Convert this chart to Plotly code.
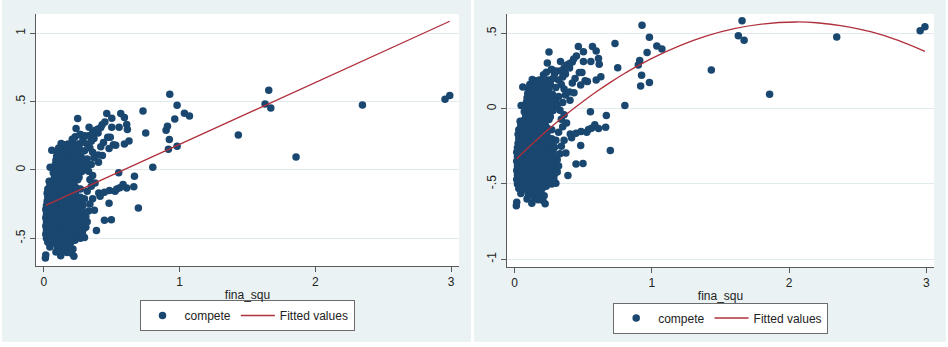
import plotly.graph_objects as go

# ---------------- data ----------------
fina_squ = [
    # bottom of dense cluster
    0.012, 0.015, 0.125, 0.205, 0.222,
    0.09, 0.14, 0.17, 0.215, 0.19,
    0.045, 0.10, 0.125, 0.16, 0.19,
    0.03, 0.07, 0.11, 0.14, 0.17, 0.20, 0.23,
    0.02, 0.05, 0.08, 0.11, 0.14, 0.17, 0.20, 0.235, 0.27, 0.30,
    0.015, 0.045, 0.075, 0.105, 0.135, 0.165, 0.195, 0.225, 0.255, 0.285,
    0.02, 0.05, 0.08, 0.11, 0.14, 0.17, 0.20, 0.23, 0.26, 0.29, 0.388,
    0.015, 0.045, 0.075, 0.105, 0.135, 0.165, 0.195, 0.225, 0.255, 0.28, 0.305,
    0.02, 0.05, 0.08, 0.11, 0.14, 0.17, 0.20, 0.23, 0.26, 0.29,
    0.015, 0.045, 0.075, 0.105, 0.135, 0.165, 0.195, 0.225, 0.255, 0.285, 0.31,
    0.02, 0.05, 0.08, 0.11, 0.14, 0.17, 0.20, 0.23, 0.26, 0.29,
    0.015, 0.045, 0.075, 0.105, 0.135, 0.165, 0.195, 0.225, 0.255, 0.28,
    0.02, 0.05, 0.08, 0.11, 0.14, 0.17, 0.20, 0.23, 0.26, 0.29,
    0.025, 0.055, 0.085, 0.115, 0.145, 0.175, 0.205, 0.235, 0.265,
    0.03, 0.06, 0.09, 0.12, 0.15, 0.18, 0.21, 0.24, 0.27, 0.30,
    0.025, 0.055, 0.085, 0.115, 0.145, 0.175, 0.205, 0.235,
    0.03, 0.06, 0.09, 0.12, 0.15, 0.18, 0.21, 0.24, 0.27,
    0.045, 0.075, 0.105, 0.135, 0.165, 0.195, 0.225,
    0.04, 0.07, 0.10, 0.13, 0.16, 0.19, 0.22, 0.25,
    # upper part of dense cluster
    0.08, 0.11, 0.14, 0.17, 0.20, 0.23, 0.26,
    0.07, 0.10, 0.13, 0.16, 0.19, 0.22, 0.25, 0.28,
    0.047, 0.09, 0.12, 0.15, 0.18, 0.21, 0.24, 0.27,
    0.085, 0.115, 0.145, 0.175, 0.205, 0.235, 0.265, 0.30,
    0.09, 0.12, 0.15, 0.18, 0.21, 0.24, 0.28,
    0.095, 0.125, 0.155, 0.185, 0.215, 0.245, 0.275,
    0.10, 0.13, 0.16, 0.19, 0.22, 0.25, 0.059,
    0.11, 0.14, 0.17, 0.20, 0.23, 0.26,
    0.128, 0.155, 0.18, 0.205, 0.245,
    0.231, 0.268, 0.21, 0.29,
    # upper streak
    0.25, 0.238, 0.334, 0.27, 0.30, 0.33, 0.36, 0.38, 0.40, 0.42, 0.43, 0.45,
    0.40, 0.37, 0.35, 0.32, 0.28, 0.34, 0.30, 0.36, 0.40, 0.432, 0.403, 0.37,
    0.32, 0.35, 0.31, 0.33, 0.36, 0.34, 0.378, 0.471, 0.49, 0.481, 0.513, 0.53,
    0.594, 0.628, 0.464, 0.567, 0.594, 0.501, 0.611, 0.555, 0.616, 0.501, 0.44, 0.42,
    # middle streak
    0.415, 0.405, 0.447, 0.484, 0.525, 0.538, 0.56, 0.584, 0.611, 0.663, 0.668,
    0.552, 0.697, 0.481, 0.498, 0.447, 0.373, 0.36, 0.34, 0.33, 0.32, 0.35, 0.803,
    0.31, 0.32,
    # outer points
    0.731, 0.751, 0.928, 0.982, 1.036, 1.073, 0.965, 0.911, 0.901, 0.925, 0.918,
    0.982, 1.433, 1.630, 1.657, 1.672, 1.858, 2.347, 2.955, 2.99,
]

compete = [
    # bottom of dense cluster
    -0.644, -0.622, -0.628, -0.61, -0.632,
    -0.60, -0.59, -0.605, -0.578, -0.595,
    -0.564, -0.57, -0.555, -0.56, -0.55,
    -0.53, -0.535, -0.525, -0.54, -0.52, -0.53, -0.515,
    -0.50, -0.495, -0.505, -0.49, -0.50, -0.495, -0.505, -0.49, -0.50, -0.495,
    -0.47, -0.465, -0.475, -0.46, -0.47, -0.468, -0.474, -0.462, -0.47, -0.466,
    -0.44, -0.435, -0.445, -0.43, -0.44, -0.438, -0.444, -0.432, -0.44, -0.436, -0.444,
    -0.41, -0.405, -0.415, -0.40, -0.41, -0.408, -0.414, -0.402, -0.41, -0.405, -0.41,
    -0.38, -0.375, -0.385, -0.37, -0.38, -0.378, -0.384, -0.372, -0.38, -0.376,
    -0.35, -0.345, -0.355, -0.34, -0.35, -0.348, -0.354, -0.342, -0.35, -0.346, -0.34,
    -0.32, -0.315, -0.325, -0.31, -0.32, -0.318, -0.324, -0.312, -0.32, -0.316,
    -0.29, -0.285, -0.295, -0.28, -0.29, -0.288, -0.294, -0.282, -0.29, -0.286,
    -0.26, -0.255, -0.265, -0.25, -0.26, -0.258, -0.264, -0.252, -0.26, -0.256,
    -0.23, -0.225, -0.235, -0.22, -0.23, -0.228, -0.234, -0.222, -0.23,
    -0.20, -0.195, -0.205, -0.19, -0.20, -0.198, -0.204, -0.192, -0.20, -0.21,
    -0.17, -0.165, -0.175, -0.16, -0.17, -0.168, -0.174, -0.162,
    -0.14, -0.135, -0.145, -0.13, -0.14, -0.138, -0.144, -0.132, -0.14,
    -0.11, -0.105, -0.115, -0.10, -0.11, -0.108, -0.114,
    -0.083, -0.075, -0.085, -0.07, -0.08, -0.078, -0.084, -0.072,
    # upper part of dense cluster
    -0.05, -0.045, -0.055, -0.04, -0.05, -0.048, -0.054,
    -0.02, -0.015, -0.025, -0.01, -0.02, -0.018, -0.024, -0.012,
    0.02, 0.01, 0.005, 0.015, 0.01, 0.012, 0.006, 0.018,
    0.04, 0.045, 0.035, 0.05, 0.04, 0.042, 0.036, 0.048,
    0.07, 0.075, 0.065, 0.08, 0.07, 0.072, 0.066,
    0.10, 0.105, 0.095, 0.11, 0.10, 0.102, 0.096,
    0.13, 0.135, 0.125, 0.14, 0.13, 0.132, 0.144,
    0.16, 0.165, 0.155, 0.17, 0.16, 0.162,
    0.193, 0.185, 0.19, 0.18, 0.19,
    0.242, 0.259, 0.225, 0.23,
    # upper streak
    0.376, 0.303, 0.312, 0.26, 0.25, 0.25, 0.27, 0.29, 0.30, 0.31, 0.33, 0.35,
    0.27, 0.23, 0.21, 0.19, 0.20, 0.16, 0.14, 0.13, 0.11, 0.105, 0.056, 0.09,
    0.08, 0.04, 0.02, -0.01, -0.04, -0.07, -0.095, 0.239, 0.24, 0.156, 0.185, 0.18,
    0.19, 0.212, 0.412, 0.412, 0.383, 0.378, 0.332, 0.312, 0.295, 0.312, 0.20, 0.17,
    # middle streak
    -0.193, -0.168, -0.163, -0.151, -0.156, -0.139, -0.13, -0.107, -0.132, -0.124, -0.046,
    -0.020, -0.278, -0.244, -0.364, -0.368, -0.295, -0.21, -0.25, -0.30, -0.156, -0.12, 0.020,
    -0.42, -0.38,
    # outer points
    0.432, 0.271, 0.554, 0.473, 0.415, 0.395, 0.373, 0.320, 0.290, 0.222, 0.151,
    0.173, 0.256, 0.483, 0.583, 0.454, 0.095, 0.476, 0.517, 0.544,
]

# linear fit (left panel)
fit_lin_x = [0.015, 2.99]
fit_lin_y = [-0.259, 1.088]

# quadratic fit (right panel)
fit_quad_x = [0.015, 0.1, 0.2, 0.3, 0.4, 0.5, 0.6, 0.7, 0.8, 0.9, 1.0, 1.2, 1.4,
              1.6, 1.8, 2.05, 2.2, 2.4, 2.6, 2.8, 2.99]
fit_quad_y = [-0.332, -0.258, -0.175, -0.096, -0.021, 0.049, 0.115, 0.176, 0.233,
              0.285, 0.334, 0.417, 0.483, 0.531, 0.561, 0.575, 0.570, 0.548, 0.509,
              0.452, 0.380]

left_yticks = [-0.5, 0, 0.5, 1]
left_yticktext = ["-.5", "0", ".5", "1"]
right_yticks = [-1, -0.5, 0, 0.5]
right_yticktext = ["-1", "-.5", "0", ".5"]
xticks = [0, 1, 2, 3]
xticktext = ["0", "1", "2", "3"]

# ---------------- styling ----------------
W, H = 948, 347
NAVY = "#1a476f"
MAROON = "#b0303c"
PANEL = "#eaf2f3"
GRID = "#e1ebee"
AXIS = "#5a5a5a"
FONT = "Liberation Sans, Arial, sans-serif"

fig = go.Figure()

fig.add_trace(go.Scatter(x=fina_squ, y=compete, mode="markers", name="compete",
                         marker=dict(color=NAVY, size=7.5, line=dict(width=0)),
                         xaxis="x", yaxis="y", legend="legend"))
fig.add_trace(go.Scatter(x=fit_lin_x, y=fit_lin_y, mode="lines", name="Fitted values",
                         line=dict(color=MAROON, width=1.3),
                         xaxis="x", yaxis="y", legend="legend"))
fig.add_trace(go.Scatter(x=fina_squ, y=compete, mode="markers", name="compete",
                         marker=dict(color=NAVY, size=7.5, line=dict(width=0)),
                         xaxis="x2", yaxis="y2", legend="legend2"))
fig.add_trace(go.Scatter(x=fit_quad_x, y=fit_quad_y, mode="lines", name="Fitted values",
                         line=dict(color=MAROON, width=1.3, shape="spline"),
                         xaxis="x2", yaxis="y2", legend="legend2"))


def xax(domain, rng, anchor):
    return dict(domain=domain, range=rng, anchor=anchor, tickvals=xticks, ticktext=xticktext,
                ticks="outside", ticklen=5, tickcolor=AXIS, tickwidth=1,
                showline=True, linecolor=AXIS, linewidth=1, showgrid=False, zeroline=False,
                tickfont=dict(size=12, color="#222", family=FONT),
                title=dict(text="fina_squ", font=dict(size=12, color="#222", family=FONT), standoff=2))


def yax(domain, rng, anchor, tv, tt):
    return dict(domain=domain, range=rng, anchor=anchor, tickvals=tv, ticktext=tt,
                tickangle=-90, ticks="outside", ticklen=5, tickcolor=AXIS, tickwidth=1,
                showline=True, linecolor=AXIS, linewidth=1, showgrid=True, gridcolor=GRID,
                gridwidth=1, zeroline=False,
                tickfont=dict(size=12, color="#222", family=FONT))


legend_style = dict(orientation="h", xanchor="center", yanchor="middle", bgcolor="white",
                    bordercolor="#6b6b6b", borderwidth=1,
                    font=dict(size=12, color="#222", family=FONT),
                    itemwidth=34, tracegroupgap=0)

fig.update_layout(
    width=W, height=H, margin=dict(l=0, r=0, t=0, b=0),
    paper_bgcolor=PANEL, plot_bgcolor="white",
    font=dict(family=FONT, size=12, color="#222"),
    showlegend=True,
    xaxis=xax([36 / W, 459 / W], [-0.057, 3.058], "y"),
    yaxis=yax([1 - 266 / H, 1 - 14 / H], [-0.703, 1.141], "x", left_yticks, left_yticktext),
    xaxis2=xax([507 / W, 934 / W], [-0.056, 3.056], "y2"),
    yaxis2=yax([1 - 267 / H, 1 - 14 / H], [-1.051, 0.628], "x2", right_yticks, right_yticktext),
    legend=dict(x=247 / W, y=1 - 315.5 / H, **legend_style),
    legend2=dict(x=720.7 / W, y=1 - 318 / H, **legend_style),
    shapes=[
        # white gaps around / between the two light panels
        dict(type="rect", xref="paper", yref="paper", x0=471 / W, x1=474 / W, y0=0, y1=1,
             fillcolor="white", line=dict(width=0), layer="below"),
        dict(type="rect", xref="paper", yref="paper", x0=0, x1=1, y0=0, y1=1 - 342 / H,
             fillcolor="white", line=dict(width=0), layer="below"),
        dict(type="rect", xref="paper", yref="paper", x0=0, x1=2 / W, y0=0, y1=1,
             fillcolor="white", line=dict(width=0), layer="below"),
        dict(type="rect", xref="paper", yref="paper", x0=946 / W, x1=1, y0=0, y1=1,
             fillcolor="white", line=dict(width=0), layer="below"),
    ],
)

fig.write_html("out.html", config={"responsive": False, "displayModeBar": False},
               post_script="document.body.style.margin='0';document.body.style.padding='0';")
